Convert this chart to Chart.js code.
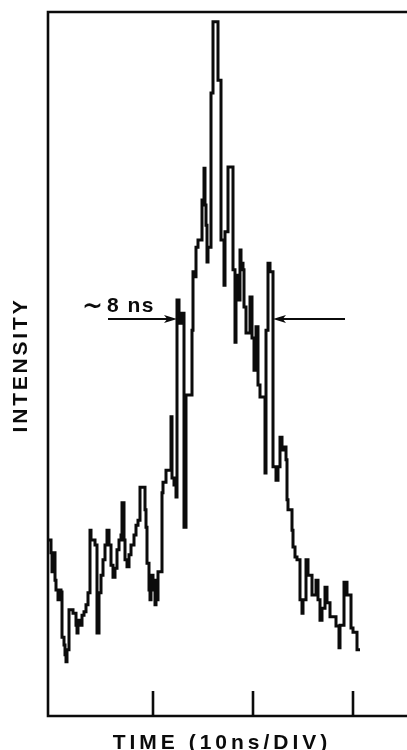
<!DOCTYPE html>
<html>
<head>
<meta charset="utf-8">
<script src="https://cdn.jsdelivr.net/npm/chart.js@4"></script>
<style>
  html, body { margin: 0; padding: 0; background: #fff; overflow: hidden; }
  canvas { display: block; }
</style>
</head>
<body>
<canvas id="trace" width="407" height="750"></canvas>
<script>
// Time of each channel step (ns) and the recorded intensity (arbitrary units)
const timeNs = [
  -0.5, -0.2, -0.1, 0.0, 0.2, 0.3, 0.5, 0.6, 0.8, 0.9,
  1.1, 1.2, 1.3, 1.4, 1.6, 2.0, 2.3, 2.4, 2.5, 2.7,
  2.9, 3.1, 3.3, 3.5, 3.7, 3.8, 4.2, 4.4, 4.6, 4.8,
  5.0, 5.2, 5.4, 5.6, 5.8, 6.0, 6.2, 6.4, 6.6, 6.8,
  6.9, 7.1, 7.2, 7.4, 7.6, 7.8, 8.1, 8.3, 8.5, 8.7,
  9.2, 9.3, 9.4, 9.6, 9.7, 9.8, 10.0, 10.2, 10.3, 10.4,
  10.5, 10.9, 11.0, 11.3, 11.8, 11.9, 12.1, 12.3, 12.4, 12.6,
  12.8, 13.1, 13.3, 13.9, 14.0, 14.2, 14.3, 14.5, 14.9, 15.1,
  15.2, 15.3, 15.4, 15.5, 15.8, 16.0, 16.5, 16.8, 17.1, 17.2,
  17.5, 18.0, 18.2, 18.3, 18.5, 18.7, 18.8, 19.0, 19.1, 19.3,
  19.7, 19.9, 20.1, 20.3, 20.5, 20.7, 21.2, 21.3, 21.5, 21.7,
  22.0, 22.3, 22.5, 22.7, 22.9, 23.0, 23.3, 23.4, 23.5, 23.9,
  24.0, 24.2, 24.4, 24.7, 24.9, 25.0, 25.3, 25.5, 25.9, 26.3,
  26.5, 26.7, 26.9, 27.2, 27.4, 27.7, 28.3, 28.6, 28.7, 29.1,
  29.4, 29.8, 30.0, 30.4, 30.7
];
const intensity = [
  25.0, 23.2, 20.5, 23.2, 19.3, 17.9, 16.5, 17.9, 17.6, 11.2,
  10.1, 8.7, 7.7, 9.4, 15.1, 14.6, 12.9, 11.8, 13.6, 12.9,
  14.3, 14.8, 15.8, 17.5, 26.4, 25.0, 24.3, 11.8, 17.5, 20.0,
  22.2, 24.3, 26.4, 24.3, 21.4, 19.7, 21.0, 23.6, 25.0, 25.7,
  30.3, 25.0, 22.2, 21.2, 22.9, 24.3, 25.7, 27.1, 27.8, 32.5,
  29.3, 26.8, 21.7, 17.9, 16.5, 20.0, 17.9, 15.8, 19.3, 16.5,
  20.5, 31.7, 33.2, 34.9, 42.5, 33.8, 32.8, 31.1, 59.1, 55.8,
  57.2, 26.8, 45.6, 54.8, 63.1, 62.4, 66.6, 67.6, 73.3, 77.8,
  72.6, 69.7, 64.5, 66.6, 88.5, 98.6, 90.3, 67.6, 61.2, 68.8,
  78.0, 63.4, 53.1, 62.6, 59.1, 66.2, 64.3, 63.4, 58.1, 54.4,
  59.5, 53.7, 49.1, 55.3, 47.0, 45.3, 34.5, 54.8, 64.3, 63.1,
  35.4, 33.5, 35.4, 39.6, 37.8, 38.2, 36.4, 30.7, 29.3, 26.4,
  24.0, 22.6, 22.2, 16.5, 14.6, 16.5, 22.2, 20.0, 17.2, 19.3,
  16.5, 13.6, 15.3, 18.3, 16.1, 14.1, 12.8, 9.7, 12.9, 19.0,
  17.2, 12.5, 11.9, 9.4, 9.4
];

// Division marks along the time axis (ns)
const tickTimes = [10, 20, 30];

// Axis titles and the pulse-width note
const xAxisTitle = 'TIME (10ns/DIV)';
const yAxisTitle = 'INTENSITY';
const widthTilde = '~';
const widthLabel = '8 ns';

// Pulse-width arrows: level, arrow tips and arrow tails (ns)
const widthLevel = 56.4;
const widthEdges = [12.4, 22.0];
const arrowTails = [5.5, 29.2];

const ink = '#0b0b0b';

function arrow(ctx, x0, x1, y) {
  const dir = Math.sign(x1 - x0);
  const head = 13, half = 4;
  ctx.beginPath();
  ctx.moveTo(x0, y);
  ctx.lineTo(x1 - dir * head * 0.6, y);
  ctx.stroke();
  ctx.beginPath();
  ctx.moveTo(x1, y);
  ctx.lineTo(x1 - dir * head, y - half);
  ctx.lineTo(x1 - dir * head * 0.75, y);
  ctx.lineTo(x1 - dir * head, y + half);
  ctx.closePath();
  ctx.fill();
}

const framePlugin = {
  id: 'frame',
  afterDraw(chart) {
    const { ctx, scales: { x, y } } = chart;
    const L = x.left, R = x.right, T = y.top, B = y.bottom;
    ctx.save();
    ctx.strokeStyle = ink;
    ctx.fillStyle = ink;

    // Open frame: top, left and bottom edges
    ctx.lineWidth = 2.6;
    ctx.lineCap = 'square';
    ctx.lineJoin = 'miter';
    ctx.beginPath();
    ctx.moveTo(R + 4, T);
    ctx.lineTo(L, T);
    ctx.lineTo(L, B);
    ctx.lineTo(R + 4, B);
    ctx.stroke();

    // Inward division ticks on the time axis
    ctx.lineCap = 'butt';
    tickTimes.forEach(t => {
      const px = x.getPixelForValue(t);
      ctx.beginPath();
      ctx.moveTo(px, B);
      ctx.lineTo(px, B - 25);
      ctx.stroke();
    });

    // Width arrows
    ctx.lineWidth = 2;
    const ay = y.getPixelForValue(widthLevel);
    arrow(ctx, x.getPixelForValue(arrowTails[0]), x.getPixelForValue(widthEdges[0]), ay);
    arrow(ctx, x.getPixelForValue(arrowTails[1]), x.getPixelForValue(widthEdges[1]), ay);

    // Width note
    ctx.textBaseline = 'alphabetic';
    ctx.textAlign = 'left';
    ctx.font = 'bold 25px "DejaVu Sans"';
    ctx.fillText(widthTilde, 82, 314);
    ctx.font = 'bold 21px "Liberation Sans"';
    ctx.letterSpacing = '1.5px';
    ctx.fillText(widthLabel, 107, 312);

    // Axis titles
    ctx.font = 'bold 21px "Liberation Sans"';
    ctx.letterSpacing = '4px';
    ctx.textAlign = 'center';
    ctx.fillText(xAxisTitle, 222, 749);

    ctx.save();
    ctx.translate(27, 366);
    ctx.rotate(-Math.PI / 2);
    ctx.letterSpacing = '2.8px';
    ctx.fillText(yAxisTitle, 1, 0);
    ctx.restore();

    ctx.restore();
  }
};

new Chart(document.getElementById('trace'), {
  type: 'line',
  data: {
    datasets: [{
      data: timeNs.map((t, i) => ({ x: t, y: intensity[i] })),
      stepped: true,
      borderColor: ink,
      borderWidth: 3,
      borderJoinStyle: 'miter',
      pointRadius: 0,
      fill: false
    }]
  },
  options: {
    responsive: false,
    animation: false,
    events: [],
    layout: { padding: { left: 48, top: 12, right: 0, bottom: 34 } },
    plugins: { legend: { display: false }, tooltip: { enabled: false } },
    scales: {
      x: { type: 'linear', min: -0.5, max: 35.4, display: false },
      y: { type: 'linear', min: 0, max: 100, display: false }
    }
  },
  plugins: [framePlugin]
});
</script>
</body>
</html>
